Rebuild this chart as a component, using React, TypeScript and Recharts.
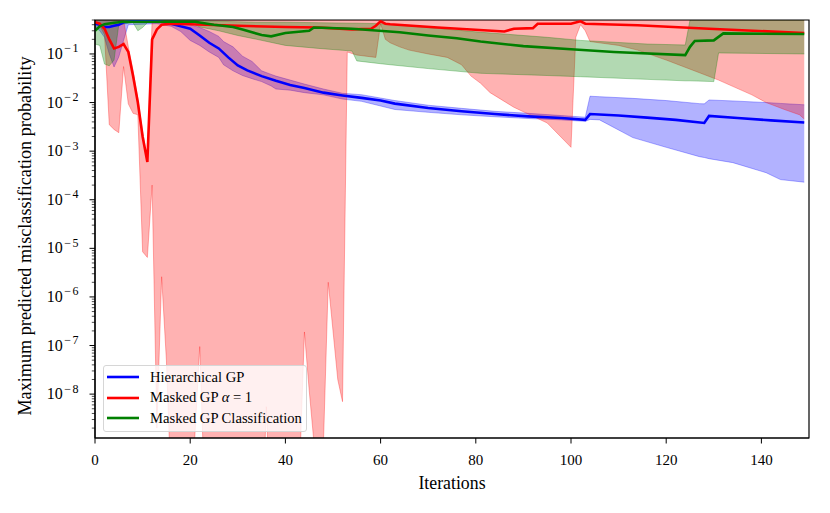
import React from "react";
import {
  ComposedChart,
  Area,
  Line,
  XAxis,
  YAxis,
  Label,
  ReferenceArea,
} from "recharts";

const FONT = "'Liberation Serif', 'DejaVu Serif', serif";

const xTicks = [0, 20, 40, 60, 80, 100, 120, 140];
const yMin = 1.25e-9;
const yMax = 0.5;

// [iteration, mean]
const hierMean = [
  [0, 0.42], [1, 0.4], [2, 0.36], [3, 0.36], [4, 0.38], [5, 0.4], [6, 0.45],
  [8, 0.47], [12, 0.47], [14, 0.46], [16, 0.42], [18, 0.37], [20, 0.33],
  [22, 0.24], [24, 0.17], [26, 0.13], [28, 0.085], [30, 0.058], [32, 0.046],
  [35, 0.035], [38, 0.028], [41, 0.023], [44, 0.02], [48, 0.016], [52, 0.014],
  [56, 0.0125], [60, 0.011], [63, 0.0095], [70, 0.0077], [77, 0.0066],
  [84, 0.0058], [91, 0.0052], [98, 0.0048], [103, 0.0044], [104, 0.0058],
  [110, 0.0054], [116, 0.0049], [122, 0.0044], [128, 0.0038], [129, 0.0053],
  [135, 0.0048], [142, 0.0043], [149, 0.0039],
];
// [iteration, low, high]
const hierBand = [
  [0, 0.36, 0.5], [1, 0.3, 0.5], [2, 0.22, 0.5], [3, 0.1, 0.5], [4, 0.054, 0.5],
  [5, 0.087, 0.5], [6, 0.19, 0.5], [7, 0.4, 0.5], [13, 0.42, 0.5],
  [16, 0.37, 0.49], [18, 0.29, 0.45], [20, 0.19, 0.4], [22, 0.15, 0.35],
  [24, 0.11, 0.29], [26, 0.085, 0.23], [27, 0.06, 0.18], [29, 0.045, 0.14],
  [31, 0.036, 0.09], [33, 0.031, 0.07], [35, 0.027, 0.045], [37, 0.022, 0.038],
  [38, 0.019, 0.035], [41, 0.018, 0.029], [44, 0.016, 0.024], [48, 0.0144, 0.019],
  [52, 0.0118, 0.0155], [56, 0.0106, 0.0145], [63, 0.0072, 0.011],
  [70, 0.0063, 0.0088], [77, 0.0056, 0.0076], [84, 0.0051, 0.0066],
  [91, 0.0047, 0.006], [98, 0.0044, 0.0054], [103, 0.0041, 0.005],
  [104, 0.0045, 0.0135], [106, 0.0044, 0.0132], [113, 0.0019, 0.0122],
  [120, 0.0012, 0.011], [127, 0.00077, 0.0095], [128, 0.00074, 0.0094],
  [129, 0.0007, 0.0113], [134, 0.00058, 0.0108], [141, 0.00036, 0.01],
  [144, 0.00026, 0.0096], [149, 0.00023, 0.009],
];

const maskedMean = [
  [0, 0.45], [1, 0.42], [2, 0.33], [3, 0.2], [4, 0.13], [5, 0.14], [6, 0.16],
  [7, 0.11], [8, 0.035], [9, 0.01], [10, 0.002], [11, 0.0006], [12, 0.2],
  [13, 0.32], [14, 0.4], [16, 0.42], [20, 0.41], [30, 0.38], [40, 0.36],
  [47, 0.35], [54, 0.32], [58, 0.33], [59, 0.38], [60, 0.47], [61, 0.42],
  [62, 0.41], [72, 0.35], [86, 0.29], [88, 0.33], [92, 0.34], [93, 0.42],
  [100, 0.42], [102, 0.47], [103, 0.42], [114, 0.39], [129, 0.33], [149, 0.27],
];
const maskedBand = [
  [0, 0.42, 0.5], [1, 0.38, 0.5], [2, 0.25, 0.5], [3, 0.0035, 0.5],
  [4, 0.0028, 0.5], [5, 0.0024, 0.5], [6, 0.055, 0.5], [7, 0.0094, 0.14],
  [8, 0.006, 0.045], [9, 0.0056, 0.012], [10, 8.5e-6, 0.0025], [11, 6.5e-6, 0.0007],
  [12, 2e-4, 0.5], [13, 2e-9, 0.5], [14, 2.6e-6, 0.5], [15, 5e-8, 0.5],
  [16, 1e-10, 0.5], [20, 1e-11, 0.5], [21, 1.5e-9, 0.5], [22, 9.5e-8, 0.5],
  [23, 1e-10, 0.5], [35, 1e-11, 0.5], [36, 5.5e-9, 0.5], [37, 1e-11, 0.5],
  [43, 3e-10, 0.5], [44, 1.9e-7, 0.5], [45, 1.2e-8, 0.5], [46, 1e-9, 0.5],
  [47, 1e-11, 0.5], [48, 1e-9, 0.5], [49, 2e-6, 0.5], [51, 2e-8, 0.5],
  [52, 7e-9, 0.5], [53, 0.11, 0.5], [55, 0.095, 0.5], [59, 0.085, 0.5],
  [60, 0.42, 0.5], [61, 0.2, 0.5], [62, 0.17, 0.5], [64, 0.14, 0.5],
  [66, 0.12, 0.5], [70, 0.1, 0.5], [74, 0.085, 0.5], [77, 0.06, 0.5],
  [79, 0.035, 0.5], [81, 0.025, 0.5], [83, 0.016, 0.5], [88, 0.008, 0.5],
  [95, 0.0038, 0.5], [100, 0.0012, 0.5], [101, 0.22, 0.5], [102, 0.4, 0.5],
  [103, 0.3, 0.5], [104, 0.18, 0.5], [110, 0.15, 0.5], [114, 0.12, 0.5],
  [120, 0.075, 0.5], [127, 0.041, 0.5], [131, 0.029, 0.5], [138, 0.0144, 0.5],
  [141, 0.01, 0.5], [145, 0.0071, 0.5], [148, 0.0056, 0.5], [149, 0.0046, 0.5],
];

const classMean = [
  [0, 0.3], [1, 0.37], [2, 0.41], [4, 0.44], [6, 0.46], [21, 0.46], [25, 0.4],
  [29, 0.36], [31, 0.32], [33, 0.28], [35, 0.245], [37, 0.23], [40, 0.27],
  [45, 0.3], [46, 0.35], [54, 0.33], [64, 0.28], [70, 0.24], [76, 0.21],
  [81, 0.18], [90, 0.145], [100, 0.125], [109, 0.11], [124, 0.095], [125, 0.14],
  [126, 0.185], [130, 0.19], [132, 0.265], [149, 0.257],
];
const classBand = [
  [0, 0.16, 0.5], [1, 0.15, 0.5], [2, 0.062, 0.5], [3, 0.057, 0.5],
  [4, 0.075, 0.5], [5, 0.4, 0.5], [8, 0.44, 0.5], [9, 0.3, 0.5], [10, 0.35, 0.5],
  [11, 0.44, 0.5], [20, 0.44, 0.5], [22, 0.36, 0.48], [26, 0.3, 0.47],
  [30, 0.24, 0.46], [34, 0.2, 0.45], [40, 0.15, 0.45], [47, 0.13, 0.44],
  [54, 0.115, 0.43], [55, 0.072, 0.43], [60, 0.063, 0.42], [62, 0.06, 0.41],
  [70, 0.05, 0.35], [81, 0.04, 0.28], [95, 0.036, 0.22], [102, 0.034, 0.19],
  [116, 0.03, 0.16], [124, 0.028, 0.153], [125, 0.028, 0.5], [130, 0.027, 0.5],
  [131, 0.105, 0.5], [149, 0.1, 0.5],
];

const toLine = (pts: number[][]) => pts.map(([x, v]) => ({ x, v }));
const toBand = (pts: number[][]) => pts.map(([x, lo, hi]) => ({ x, band: [lo, hi] }));

const series = [
  { name: "Hierarchical GP", color: "#0000ff", mean: hierMean, band: hierBand },
  { name: "Masked GP", color: "#ff0000", mean: maskedMean, band: maskedBand },
  { name: "Masked GP Classification", color: "#008000", mean: classMean, band: classBand },
];

// minor ticks for each decade inside the domain
const yTicks: number[] = [];
for (let e = -9; e <= -1; e++) {
  for (let m = 1; m <= 9; m++) {
    const v = m * Math.pow(10, e);
    if (v >= yMin && v <= yMax) yTicks.push(v);
  }
}

const YTick = (props: any) => {
  const { x, y, payload } = props;
  const lg = Math.log10(payload.value);
  const major = Math.abs(lg - Math.round(lg)) < 1e-6;
  return (
    <g>
      <line
        x1={x}
        x2={x - (major ? 5.5 : 3.2)}
        y1={y}
        y2={y}
        stroke="#000"
        strokeWidth={major ? 1 : 0.7}
      />
      {major && (
        <text x={x - 15} y={y + 5} textAnchor="end" fontFamily={FONT} fontSize={16} fill="#000">
          10
          <tspan dx={1.5} dy={-6.5} fontSize={12} letterSpacing={1.5}>
            {"\u2212" + Math.abs(Math.round(lg))}
          </tspan>
        </text>
      )}
    </g>
  );
};

const XTick = (props: any) => {
  const { x, y, payload } = props;
  return (
    <g>
      <line x1={x} x2={x} y1={y} y2={y + 5.5} stroke="#000" strokeWidth={1} />
      <text x={x} y={y + 27} textAnchor="middle" fontFamily={FONT} fontSize={15} fill="#000">
        {payload.value}
      </text>
    </g>
  );
};

const YTitle = () => (
  <text
    transform="translate(31,236) rotate(-90)"
    textAnchor="middle"
    fontFamily={FONT}
    fontSize={18.2}
    fill="#000"
  >
    Maximum predicted misclassification probability
  </text>
);

const XTitle = () => (
  <text x={452} y={489} textAnchor="middle" fontFamily={FONT} fontSize={17.8} fill="#000">
    Iterations
  </text>
);

const ChartLegend = () => (
  <div
    style={{
      position: "absolute",
      left: 103,
      top: 365,
      width: 204,
      height: 67,
      background: "rgba(255,255,255,0.8)",
      border: "1px solid #d6d6d6",
      borderRadius: 3,
      boxSizing: "border-box",
      fontFamily: FONT,
      fontSize: 14.6,
    }}
  >
    {series.map((s, i) => (
      <div
        key={s.name}
        style={{
          position: "absolute",
          left: 3,
          top: 1 + i * 20.5,
          height: 20,
          display: "flex",
          alignItems: "center",
          whiteSpace: "nowrap",
        }}
      >
        <svg width={32} height={6} style={{ marginRight: 11, display: "block" }}>
          <line x1={0} x2={32} y1={3} y2={3} stroke={s.color} strokeWidth={2.6} />
        </svg>
        <span>
          {i === 1 ? (
            <>
              Masked GP <i>α</i> = 1
            </>
          ) : (
            s.name
          )}
        </span>
      </div>
    ))}
  </div>
);

export default function App() {
  return (
    <div style={{ position: "absolute", left: 0, top: 0, width: 830, height: 513, background: "#fff" }}>
      <ComposedChart width={830} height={513} margin={{ top: 20, right: 21, bottom: 45, left: 35 }}>
        <XAxis
          dataKey="x"
          type="number"
          domain={[0, 150]}
          ticks={xTicks}
          allowDataOverflow
          height={30}
          tickSize={0}
          tickMargin={0}
          tickLine={false}
          tick={<XTick />}
          axisLine={{ stroke: "#000", strokeWidth: 1.2 }}
        >
          <Label content={<XTitle />} />
        </XAxis>
        <YAxis
          type="number"
          scale="log"
          domain={[yMin, yMax]}
          ticks={yTicks}
          allowDataOverflow
          width={60}
          tickSize={0}
          tickMargin={0}
          tickLine={false}
          tick={<YTick />}
          interval={0}
          axisLine={{ stroke: "#000", strokeWidth: 1.2 }}
        >
          <Label content={<YTitle />} />
        </YAxis>
        {series.map((s) => (
          <Area
            key={s.name + "-band"}
            data={toBand(s.band)}
            dataKey="band"
            type="linear"
            fill={s.color}
            fillOpacity={0.3}
            stroke={s.color}
            strokeOpacity={0.3}
            strokeWidth={1}
            dot={false}
            activeDot={false}
            isAnimationActive={false}
          />
        ))}
        {series.map((s) => (
          <Line
            key={s.name + "-mean"}
            data={toLine(s.mean)}
            dataKey="v"
            type="linear"
            stroke={s.color}
            strokeWidth={2.6}
            dot={false}
            activeDot={false}
            isAnimationActive={false}
          />
        ))}
        <ReferenceArea
          x1={0}
          x2={150}
          y1={yMin}
          y2={yMax}
          fill="none"
          stroke="#000"
          strokeWidth={1.2}
        />
      </ComposedChart>
      <ChartLegend />
    </div>
  );
}
